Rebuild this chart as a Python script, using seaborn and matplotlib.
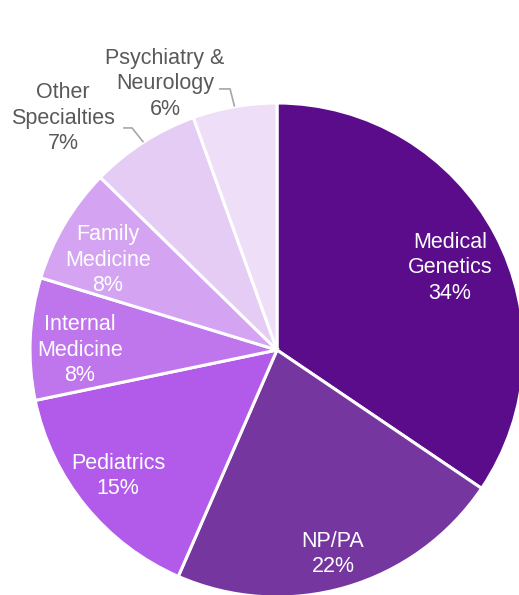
import numpy as np
import matplotlib
matplotlib.use("Agg")
import matplotlib.pyplot as plt
import seaborn as sns

sns.set_theme(style="white")
plt.rcParams['font.family'] = ['Liberation Sans', 'DejaVu Sans']

# Data (wedge sizes, printed labels as shown)
categories = ["Medical\nGenetics", "NP/PA", "Pediatrics", "Internal\nMedicine",
              "Family\nMedicine", "Other\nSpecialties", "Psychiatry &\nNeurology"]
shares = [34.5, 22.1, 15.2, 8.0, 7.6, 7.2, 5.5]
pct_labels = ["34%", "22%", "15%", "8%", "8%", "7%", "6%"]
colors = ["#5A0C8A", "#7536A0", "#B25BEA", "#BF76EC", "#D4A4F2", "#E5CCF5", "#EEDEF8"]
outside = [False, False, False, False, False, True, True]

fig = plt.figure(figsize=(5.19, 5.95), dpi=100)
ax = fig.add_axes([30 / 519, -2 / 595, 494 / 519, 494 / 595])

wedges, _ = ax.pie(shares, colors=colors, startangle=90, counterclock=False,
                   radius=1.0, wedgeprops=dict(edgecolor="white", linewidth=2.2))
ax.set_xlim(-1, 1)
ax.set_ylim(-1, 1)
ax.set_aspect("equal")
ax.axis("off")

# label anchors, in radius units from the pie centre
label_pos = [(0.700, 0.332), (0.227, -0.826), (-0.644, -0.510), (-0.798, 0.0),
             (-0.684, 0.364), (-0.866, 0.939), (-0.453, 1.077)]
# leader elbow offsets from label centre: (start x, elbow x, y)
leader = {5: (0.243, 0.279, -0.040), 6: (0.218, 0.263, -0.020)}

txt_kw = dict(ha="center", va="center", fontsize=15.5, linespacing=1.28, clip_on=False)

for i, (w, lab, pl) in enumerate(zip(wedges, categories, pct_labels)):
    tx, ty = label_pos[i]
    text = f"{lab}\n{pl}"
    if not outside[i]:
        ax.text(tx, ty, text, color="white", **txt_kw)
    else:
        ax.text(tx, ty, text, color="#595959", **txt_kw)
        mid = np.deg2rad((w.theta1 + w.theta2) / 2)
        ex, ey = np.cos(mid), np.sin(mid)
        x0, x1, dy = leader[i]
        ax.plot([tx + x0, tx + x1, ex], [ty + dy, ty + dy, ey], color="#A6A6A6",
                lw=1.2, clip_on=False, solid_capstyle="butt")

fig.savefig("out.png", dpi=100)
